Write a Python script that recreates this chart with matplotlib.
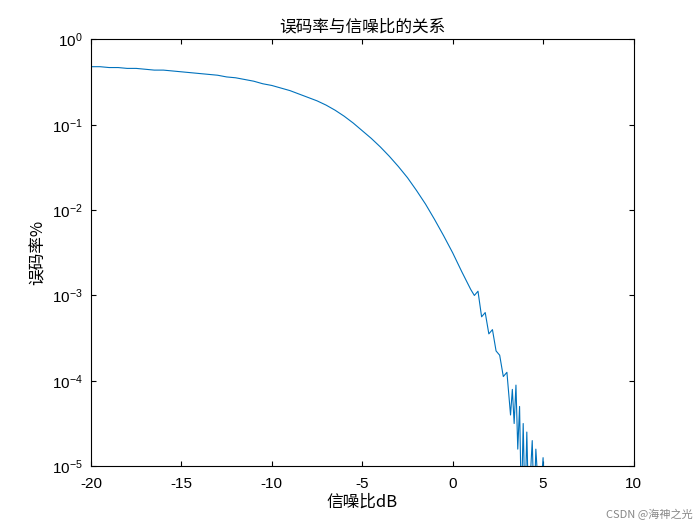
import numpy as np
import matplotlib
matplotlib.use("Agg")
import matplotlib.pyplot as plt

plt.rcParams['font.family'] = ['Liberation Sans', 'Noto Sans CJK SC', 'DejaVu Sans']
plt.rcParams['axes.unicode_minus'] = False

# SNR in dB and log10(BER)
snr_db = [-20, -19.5, -19, -18.5, -18, -17.5, -17, -16.5, -16, -15.5, -15, -14.5, -14, -13.5,
          -13, -12.5, -12, -11.5, -11, -10.5, -10, -9.5, -9, -8.5, -8, -7.5, -7, -6.5, -6,
          -5.5, -5, -4.5, -4, -3.5, -3, -2.5, -2, -1.5, -1, -0.5, 0, 0.5, 1.0, 1.2, 1.4, 1.6,
          1.8, 2.0, 2.2, 2.4, 2.6, 2.8, 3.0, 3.2, 3.3, 3.4, 3.5, 3.6, 3.7, 3.8, 3.9, 4.0,
          4.1, 4.2, 4.4, 4.5, 4.6, 4.8, 5.0, 5.1]
ber_log10 = [-0.32, -0.32, -0.33, -0.33, -0.34, -0.34, -0.35, -0.36, -0.36, -0.37, -0.38,
             -0.39, -0.40, -0.41, -0.42, -0.44, -0.45, -0.47, -0.49, -0.52, -0.54, -0.57,
             -0.60, -0.64, -0.68, -0.72, -0.77, -0.83, -0.90, -0.98, -1.07, -1.16, -1.26,
             -1.37, -1.49, -1.62, -1.77, -1.93, -2.11, -2.30, -2.50, -2.72, -2.93, -3.0,
             -2.95, -3.25, -3.2, -3.45, -3.40, -3.65, -3.7, -3.95, -3.9, -4.4, -4.1, -4.5,
             -4.05, -4.8, -4.3, -5.5, -4.5, -5.5, -4.6, -5.5, -4.7, -5.5, -4.8, -5.5, -4.9, -5.5]

ber = 10.0 ** np.array(ber_log10)

fig, ax = plt.subplots(figsize=(7, 5.25), dpi=100)
fig.subplots_adjust(left=0.13, right=0.905, top=0.925, bottom=0.112)
ax.semilogy(snr_db, ber, color='#0072BD', linewidth=0.8)
ax.set_xlim(-20, 10)
ax.set_ylim(1e-5, 1)
ax.set_xticks([-20, -15, -10, -5, 0, 5, 10])
ax.tick_params(which='both', direction='in', top=True, right=True, labelsize=11)
ax.tick_params(axis='x', pad=8)
ax.tick_params(axis='y', pad=6)
ax.tick_params(which='minor', left=False, right=False)
ax.set_title('误码率与信噪比的关系', fontsize=12, family=['Noto Sans CJK SC'])
ax.set_xlabel('信噪比dB', fontsize=12, family=['Noto Sans CJK SC', 'DejaVu Sans'], labelpad=2)
ax.set_ylabel('误码率%', fontsize=12, family=['Noto Sans CJK SC', 'DejaVu Sans'])
fig.text(0.99, 0.01, 'CSDN @海神之光', ha='right', va='bottom', fontsize=8,
         color='#888888', family=['Noto Sans CJK SC'])
fig.savefig('out.png')
